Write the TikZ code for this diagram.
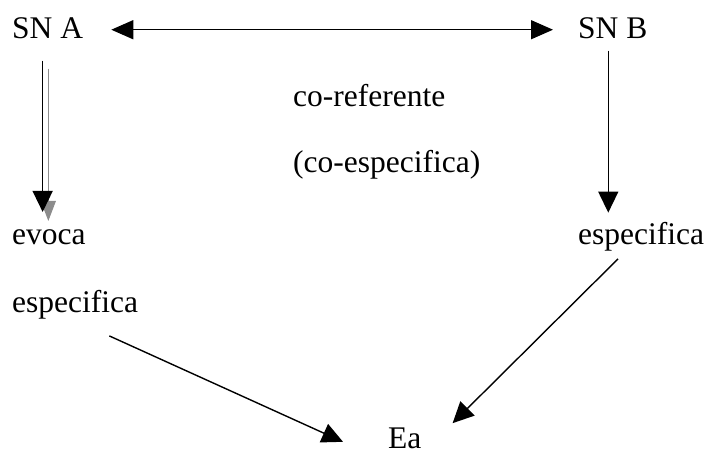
\documentclass[tikz,border=0pt]{standalone}
\usepackage{fontspec}
\setmainfont{Liberation Serif}
\usetikzlibrary{arrows.meta}
\tikzset{
  lbl/.style={inner sep=0pt, anchor=base west, font=\fontsize{31.5}{38}\selectfont},
  arr/.style={line width=1.4pt, -{Triangle[length=21pt,width=20pt]}},
  shd/.style={arr, draw=gray!90, line width=1pt, -{Triangle[length=20pt,width=15pt]}}
}
\begin{document}
\begin{tikzpicture}[x=1pt,y=1pt]
\useasboundingbox (0,0) rectangle (707,455);

% Define nodes
\node[lbl] (snA)   at (12,416)  {SN A};
\node[lbl] (snB)   at (578,416) {SN B};
\node[lbl] (coref) at (293,348) {co-referente};
\node[lbl] (coesp) at (293,282) {(co-especifica)};
\node[lbl] (evoca) at (12,210)  {evoca};
\node[lbl] (espA)  at (12,142)  {especifica};
\node[lbl] (espB)  at (578,210) {especifica};
\node[lbl] (ea)    at (388,6)   {Ea};

% Connect the nodes
\draw[line width=1.4pt, {Triangle[length=22pt,width=19pt]}-{Triangle[length=22pt,width=19pt]},
  shorten <=28pt, shorten >=25pt] ([yshift=-1pt]snA.east) -- ([yshift=-1pt]snB.west);
\draw[shd, shorten <=29pt, shorten >=9pt] ([xshift=0.7pt]snA.south) -- ([xshift=0.7pt]snA.south |- evoca.north);
\draw[arr, shorten <=21pt, shorten >=18pt] ([xshift=-5pt]snA.south) -- ([xshift=-5pt]snA.south |- evoca.north);
\draw[arr, shorten <=11pt, shorten >=10pt] ([xshift=-4.5pt]snB.south) -- ([xshift=-4.5pt]snB.south |- espB.north);
\draw[arr] ([xshift=-29pt,yshift=-16pt]espA.south east) -- ([xshift=-45pt,yshift=-3pt]ea.west);
\draw[arr] ([xshift=40pt,yshift=-7pt]espB.south west) -- ([xshift=31pt,yshift=5pt]ea.north east);

\end{tikzpicture}
\end{document}
